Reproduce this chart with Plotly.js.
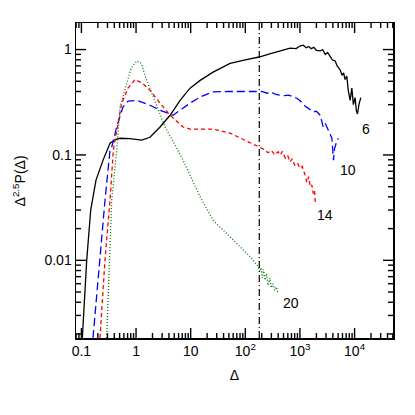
<!DOCTYPE html>
<html>
<head>
<meta charset="utf-8">
<script src="https://cdn.plot.ly/plotly-3.0.1.min.js"></script>
<style>
  html, body { margin: 0; padding: 0; background: #fff; }
  #plot { width: 415px; height: 415px; }
</style>
</head>
<body>
<div id="plot"></div>
<script>
// curve labelled 6
const d6 = [0.104, 0.125, 0.148, 0.185, 0.249, 0.334, 0.42, 0.509, 0.776, 1.27, 1.8, 2.75, 4.2, 6.4, 9.75, 14.9, 25.7, 52.6, 100, 178, 300, 450, 660, 850,
  1000, 1150, 1300, 1450, 1600, 1800, 2000, 2340, 2600, 2900, 3200, 3570, 3900, 4410, 4800, 5450, 5900, 6300, 6700, 7200, 7700, 8300, 8900, 9500, 10200, 10800, 11300, 12000, 13000];
const p6 = [0.00183, 0.01, 0.030, 0.0577, 0.0893, 0.129, 0.140, 0.144, 0.143, 0.138, 0.147, 0.184, 0.238, 0.33, 0.43, 0.51, 0.61, 0.74, 0.80, 0.85, 0.92, 0.97, 1.03, 1.02,
  1.08, 1.10, 1.04, 1.07, 1.02, 1.05, 0.98, 0.97, 1.0, 0.90, 0.94, 0.86, 0.80, 0.78, 0.70, 0.64, 0.57, 0.60, 0.52, 0.56, 0.40, 0.33, 0.43, 0.30, 0.35, 0.26, 0.245, 0.30, 0.35];

// curve labelled 10
const d10 = [0.163, 0.193, 0.221, 0.27, 0.334, 0.359, 0.443, 0.578, 0.713, 1.03, 1.8, 2.75, 4.76, 6.4, 9.75, 14.9, 25.7, 50, 80, 130, 200, 250, 300, 360, 434, 520, 620, 750, 880,
  1050, 1245, 1450, 1746, 2000, 2345, 2500, 2660, 2900, 3280, 3500, 3840, 4110, 4300, 4600, 5010];
const p10 = [0.00183, 0.0052, 0.0124, 0.037, 0.111, 0.119, 0.185, 0.286, 0.324, 0.33, 0.296, 0.266, 0.238, 0.266, 0.31, 0.355, 0.396, 0.40, 0.40, 0.405, 0.40, 0.385, 0.395, 0.375, 0.37, 0.365, 0.37, 0.355, 0.345,
  0.32, 0.29, 0.275, 0.256, 0.26, 0.238, 0.21, 0.185, 0.2, 0.172, 0.16, 0.144, 0.089, 0.115, 0.129, 0.144];

// curve labelled 14
const d14 = [0.219, 0.27, 0.334, 0.384, 0.412, 0.547, 0.713, 0.96, 1.3, 1.8, 2.75, 4.2, 7.26, 9.75, 14.9, 25.7, 52.6, 99, 180, 220, 260, 300, 350, 400, 434, 480, 540, 600, 660, 720, 800, 900,
  1000, 1100, 1245, 1340, 1450, 1540, 1650, 1746, 1850, 1910];
const p14 = [0.00183, 0.01, 0.0373, 0.111, 0.138, 0.31, 0.43, 0.52, 0.48, 0.41, 0.31, 0.238, 0.184, 0.176, 0.176, 0.176, 0.161, 0.138, 0.119, 0.113, 0.105, 0.11, 0.1, 0.107, 0.1, 0.108, 0.093, 0.098, 0.086, 0.092, 0.08, 0.084,
  0.075, 0.078, 0.064, 0.055, 0.062, 0.05, 0.052, 0.043, 0.046, 0.035];

// curve labelled 20
const d20 = [0.29, 0.324, 0.359, 0.443, 0.509, 0.676, 0.81, 1.03, 1.24, 1.57, 2.39, 3.4, 5.18, 7.26, 14.9, 25.7, 52.6, 107, 130, 150, 170, 185, 195, 205, 215, 230, 245, 260, 280, 300, 320, 345, 370, 390];
const p20 = [0.00183, 0.01, 0.0373, 0.111, 0.286, 0.476, 0.665, 0.78, 0.74, 0.51, 0.286, 0.184, 0.124, 0.089, 0.04, 0.024, 0.0167, 0.0117, 0.0105, 0.0095, 0.0088, 0.0078, 0.0085, 0.0068, 0.0082, 0.0065, 0.0075, 0.0058, 0.0068, 0.0055, 0.006, 0.0052, 0.0056, 0.005];

const cutoff = 180;
const labels = ['6', '10', '14', '20'];
const labelX = [16500, 7600, 2900, 680];
const labelY = [0.175, 0.072, 0.027, 0.0039];

const xTicks = [0.1, 1, 10, 100, 1000, 10000];
const xTickText = ['0.1', '1', '10', '10<sup>2</sup>', '10<sup>3</sup>', '10<sup>4</sup>'];
const yTicks = [0.01, 0.1, 1];
const yTickText = ['0.01', '0.1', '1'];

const xRange = [-1.099, 4.703];
const yRange = [-2.737, 0.252];

const W = 415, H = 415;
const margin = {l: 76, r: 22, t: 23, b: 77};
const plotW = W - margin.l - margin.r;
const plotH = H - margin.t - margin.b;

function minorTicks(lo, hi, range) {
  const v = [];
  for (let k = lo; k <= hi; k++) {
    for (let m = 2; m <= 9; m++) {
      const t = m * Math.pow(10, k);
      if (Math.log10(t) > range[0] && Math.log10(t) < range[1]) v.push(t);
    }
  }
  return v;
}

const font = {family: 'Liberation Sans, Arial, sans-serif', size: 14, color: '#000'};

const traces = [
  {x: d6, y: p6, mode: 'lines', line: {color: '#000', width: 1.3}},
  {x: d10, y: p10, mode: 'lines', line: {color: '#0000ff', width: 1.3, dash: '8px,4px'}},
  {x: d14, y: p14, mode: 'lines', line: {color: '#ff0000', width: 1.3, dash: '4px,3px'}},
  {x: d20, y: p20, mode: 'lines', line: {color: '#007a00', width: 1.3, dash: '1px,2px'}}
];

// tick marks drawn as shapes on all four sides (length given in paper fractions)
const tickLine = {color: '#000', width: 1.4};
const shapes = [];
function xTickShapes(vals, len) {
  const f = len / plotH;
  vals.forEach(v => {
    shapes.push({type: 'line', xref: 'x', yref: 'paper', x0: v, x1: v, y0: 0, y1: f, line: tickLine});
    shapes.push({type: 'line', xref: 'x', yref: 'paper', x0: v, x1: v, y0: 1, y1: 1 - f, line: tickLine});
  });
}
function yTickShapes(vals, len) {
  const f = len / plotW;
  vals.forEach(v => {
    shapes.push({type: 'line', yref: 'y', xref: 'paper', y0: v, y1: v, x0: 0, x1: f, line: tickLine});
    shapes.push({type: 'line', yref: 'y', xref: 'paper', y0: v, y1: v, x0: 1, x1: 1 - f, line: tickLine});
  });
}
xTickShapes(xTicks, 10);
xTickShapes(minorTicks(-2, 4, xRange), 5);
yTickShapes(yTicks, 10);
yTickShapes(minorTicks(-3, 0, yRange), 5);

shapes.push({
  type: 'line', xref: 'x', yref: 'paper', x0: cutoff, x1: cutoff, y0: 0, y1: 1,
  line: {color: '#000', width: 1.2, dash: '7px,3px,1px,3px'}
});

const annotations = labels.map((t, i) => ({
  x: Math.log10(labelX[i]), y: Math.log10(labelY[i]), xref: 'x', yref: 'y',
  text: t, showarrow: false, font: font
}));
annotations.push({
  xref: 'paper', yref: 'paper', x: -0.18, y: 0.5, xanchor: 'center', yanchor: 'middle', textangle: -90,
  text: 'Δ<sup>2.5</sup>P(Δ)', showarrow: false, font: font
});

const axisBase = {
  type: 'log',
  showline: true, linecolor: '#000', linewidth: 1.5,
  mirror: true,
  ticks: '',
  showgrid: false, zeroline: false,
  tickmode: 'array',
  tickfont: font
};

const layout = {
  width: W, height: H,
  margin: margin,
  paper_bgcolor: '#fff', plot_bgcolor: '#fff',
  showlegend: false,
  font: font,
  xaxis: Object.assign({}, axisBase, {
    range: xRange,
    tickvals: xTicks, ticktext: xTickText,
    title: {text: 'Δ', font: font, standoff: 12}
  }),
  yaxis: Object.assign({}, axisBase, {
    range: yRange,
    tickvals: yTicks, ticktext: yTickText
  }),
  shapes: shapes,
  annotations: annotations
};

Plotly.newPlot('plot', traces, layout, {staticPlot: true});
</script>
</body>
</html>
